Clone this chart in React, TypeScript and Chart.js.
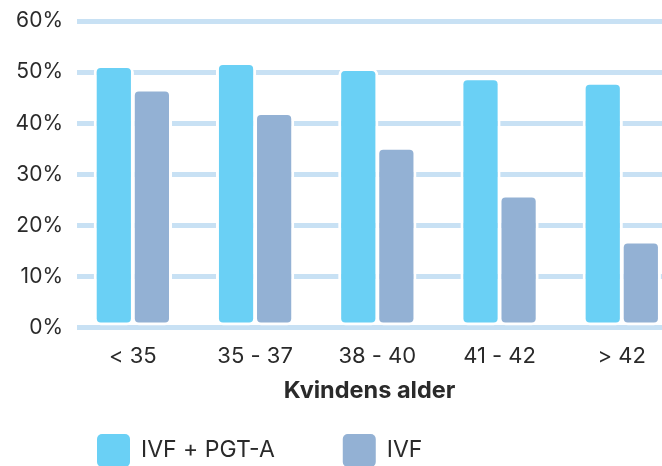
import React, { useEffect, useRef } from "react";
import { Chart, registerables } from "chart.js";

Chart.register(...registerables);

const categories = ["< 35", "35 - 37", "38 - 40", "41 - 42", "> 42"];
const ivfPgtA = [51.4, 52.0, 50.8, 49.0, 48.1];
const ivf = [46.8, 42.2, 35.4, 26.1, 17.1];
const yTicks = [0, 10, 20, 30, 40, 50, 60];
const seriesLabels = ["IVF + PGT-A", "IVF"];

const CYAN = "#6ad0f5";
const SLATE = "#93b1d4";
const GRID = "#c8e1f4";
const TEXT = "#2a2a2a";
const FONT = "Inter, 'Noto Sans', sans-serif";

const legendPlugin = {
  id: "bottomLegend",
  afterDraw(chart: any) {
    const ctx = chart.ctx;
    const area = chart.chartArea;
    const box = 33;
    let x = area.left + 20;
    const y = chart.height - 32;
    ctx.save();
    ctx.font = `400 23px ${FONT}`;
    ctx.textBaseline = "middle";
    ctx.textAlign = "left";
    chart.data.datasets.forEach((ds: any) => {
      ctx.fillStyle = ds.backgroundColor;
      ctx.beginPath();
      ctx.roundRect(x, y, box, box, 5);
      ctx.fill();
      ctx.fillStyle = TEXT;
      ctx.fillText(ds.label, x + box + 11, y + box / 2);
      x += box + 11 + ctx.measureText(ds.label).width + 68;
    });
    ctx.restore();
  },
};

export default function App() {
  const ref = useRef<HTMLCanvasElement>(null);

  useEffect(() => {
    if (!ref.current) return;
    const barStyle = {
      borderColor: "#ffffff",
      borderWidth: 3,
      borderSkipped: false,
      borderRadius: 7,
      categoryPercentage: 0.623,
      barPercentage: 1.056,
    };
    const chart = new Chart(ref.current, {
      type: "bar",
      data: {
        datasets: [
          {
            label: seriesLabels[0],
            data: ivfPgtA.map((v, i) => ({ x: i, y: v })),
            backgroundColor: CYAN,
            ...barStyle,
          },
          {
            label: seriesLabels[1],
            data: ivf.map((v, i) => ({ x: i, y: v })),
            backgroundColor: SLATE,
            ...barStyle,
          },
        ],
      },
      plugins: [legendPlugin],
      options: {
        responsive: false,
        animation: false,
        layout: { padding: { top: 21, bottom: 61, left: 0, right: 0 } },
        plugins: {
          legend: { display: false },
          tooltip: { enabled: false },
        },
        scales: {
          x: {
            type: "linear",
            offset: false,
            min: -0.457,
            max: 4.329,
            grid: { display: false, drawTicks: false, offset: false },
            border: { display: false },
            afterBuildTicks: (axis: any) => {
              axis.ticks = categories.map((_, i) => ({ value: i }));
            },
            afterFit: (axis: any) => {
              axis.paddingLeft = 0;
              axis.paddingRight = 0;
            },
            ticks: {
              autoSkip: false,
              maxRotation: 0,
              padding: 15.5,
              color: TEXT,
              font: { family: FONT, size: 22 },
              callback: (_v: any, i: number) => categories[i],
            },
            title: {
              display: true,
              text: "Kvindens alder",
              color: TEXT,
              font: { family: FONT, size: 23.5, weight: "bold" },
              padding: { top: -8.5, bottom: 0 },
            },
          },
          y: {
            min: yTicks[0],
            max: yTicks[yTicks.length - 1],
            afterFit: (axis: any) => {
              axis.width = 77;
              axis.paddingTop = 0;
              axis.paddingBottom = 0;
            },
            afterBuildTicks: (axis: any) => {
              axis.ticks = yTicks.map((v) => ({ value: v }));
            },
            grid: { color: GRID, lineWidth: 5, drawTicks: false },
            border: { display: false },
            ticks: {
              padding: 14,
              color: TEXT,
              font: { family: FONT, size: 21 },
              callback: (v: any) => `${v}%`,
            },
          },
        },
      },
    });
    return () => chart.destroy();
  }, []);

  return (
    <div style={{ position: "absolute", left: 0, top: 0, width: 662, height: 466, background: "#fff" }}>
      <canvas ref={ref} width={662} height={466} style={{ display: "block" }} />
    </div>
  );
}
